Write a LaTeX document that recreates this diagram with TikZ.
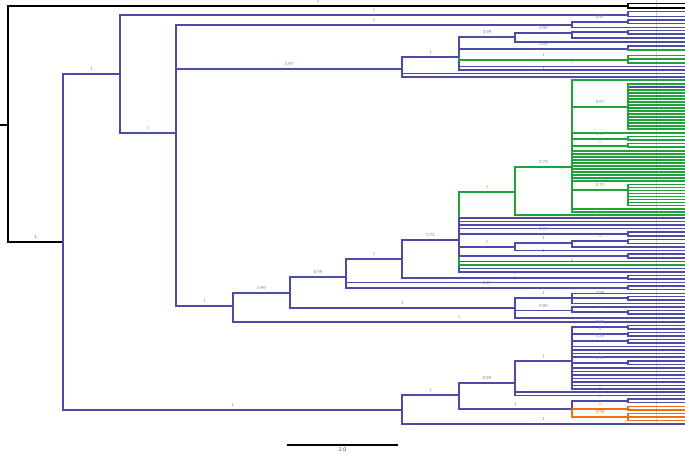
\documentclass[tikz,border=0pt]{standalone}
\usetikzlibrary{positioning}
\definecolor{treeblue}{RGB}{76,76,168}
\definecolor{treegreen}{RGB}{34,160,58}
\definecolor{treeorange}{RGB}{240,112,16}

\begin{document}
\begin{tikzpicture}[x=1pt, y=-1pt,
  br/.style={line width=1.6pt},
  blu/.style={br, draw=treeblue},
  grn/.style={br, draw=treegreen},
  org/.style={br, draw=treeorange},
  blk/.style={br, draw=black},
  pp/.style={font=\fontsize{4.5}{5}\selectfont\sffamily, inner sep=0.5pt, above=2pt, pos=0.75},
  ppb/.style={pp, text=treeblue!75},
  ppg/.style={pp, text=treegreen!85},
  ppo/.style={pp, text=treeorange},
  ppk/.style={pp, text=black!70}]
\useasboundingbox (0,0) rectangle (685,455);

% Faint tip guide
\draw[treeblue!25, line width=0.5pt] (656,0) -- (656,422);

% Root
\coordinate (r0) at (0,125);
\coordinate (root) at (8,125);
\coordinate (k1) at (628,6);
\coordinate (n63) at (63,242);
\draw[blk] (r0) -- (root);
\draw[blk] (root) |- node[ppk] {1} (k1);
\draw[blk] (root) |- node[ppk] {1} (n63);
\foreach \ty in {3.5,8} \draw[blk] (k1) |- (685,\ty);

% Main blue clade
\coordinate (n120) at (120,74);
\coordinate (n402z) at (402,410);
\draw[blu] (n63) |- node[ppb] {1} (n120);
\draw[blu] (n63) |- node[ppb] {1} (n402z);

\coordinate (c15) at (628,15);
\coordinate (n176) at (176,133);
\draw[blu] (n120) |- node[ppb] {1} (c15);
\draw[blu] (n120) |- node[ppb] {1} (n176);
\foreach \ty in {11.5,16.5} \draw[blu] (c15) |- (685,\ty);

\coordinate (n572a) at (572,25);
\coordinate (n402a) at (402,69);
\coordinate (n233) at (233,306);
\draw[blu] (n176) |- node[ppb] {1} (n572a);
\draw[blu] (n176) |- node[ppb] {0.97} (n402a);
\draw[blu] (n176) |- node[ppb] {1} (n233);

\coordinate (c22) at (628,22);
\draw[blu] (n572a) |- node[ppb] {0.97} (c22);
\draw[blu] (n572a) |- (685,27.5);
\foreach \ty in {20,23.5} \draw[blu] (c22) |- (685,\ty);

% Upper sub-clade
\coordinate (n459a) at (459,57);
\draw[blu] (n402a) |- node[ppb] {1} (n459a);
\draw[blu] (n402a) |- node[ppb] {1} (685,73.5);
\draw[blu] (n402a) |- (685,77);

\coordinate (n515a) at (515,37);
\coordinate (c49) at (628,49);
\coordinate (c60) at (628,60);
\draw[blu] (n459a) |- node[ppb] {0.99} (n515a);
\draw[blu] (n459a) |- node[ppb] {0.99} (c49);
\draw[blu] (n459a) |- node[ppb] {1} (685,66.5);
\draw[blu] (n459a) |- (685,70);
\draw[grn] (n459a) |- node[ppg] {1} (c60);
\draw[blu] (c49) |- (685,46);
\draw[grn] (c49) |- (685,50);
\foreach \ty in {55.5,59,63} \draw[grn] (c60) |- (685,\ty);

\coordinate (n572b) at (572,33);
\coordinate (c32) at (628,32);
\draw[blu] (n515a) |- node[ppb] {0.98} (n572b);
\draw[blu] (n515a) |- (685,42);
\draw[blu] (n572b) |- (c32);
\draw[blu] (n572b) |- node[ppb] {1} (685,38);
\foreach \ty in {30.5,34} \draw[blu] (c32) |- (685,\ty);

% Middle sub-clades
\coordinate (n290) at (290,293);
\draw[blu] (n233) |- node[ppb] {0.99} (n290);
\draw[blu] (n233) |- node[ppb] {1} (685,322);
\coordinate (n346) at (346,277);
\coordinate (n515e) at (515,308);
\draw[blu] (n290) |- node[ppb] {0.99} (n346);
\draw[blu] (n290) |- node[ppb] {1} (n515e);

\coordinate (n402c) at (402,259);
\coordinate (c288) at (628,288);
\draw[blu] (n346) |- node[ppb] {1} (n402c);
\draw[blu] (n346) |- node[ppb] {1} (685,282.5);
\draw[blu] (n346) |- node[ppb] {0.99} (c288);
\foreach \ty in {286,289.5} \draw[blu] (c288) |- (685,\ty);

\coordinate (n459c) at (459,240);
\coordinate (c278) at (628,278);
\draw[blu] (n402c) |- node[ppb] {0.74} (n459c);
\draw[blu] (n402c) |- node[ppb] {1} (c278);
\foreach \ty in {275.5,279} \draw[blu] (c278) |- (685,\ty);

\coordinate (gA) at (515,192);
\coordinate (c234) at (628,234);
\coordinate (c256) at (628,256);
\coordinate (n515c) at (515,247);
\draw[grn] (n459c) |- node[ppg] {1} (gA);
\foreach \ty in {218,221.5,225,228.5} \draw[blu] (n459c) |- (685,\ty);
\draw[blu] (n459c) |- node[ppb] {0.99} (c234);
\foreach \ty in {232,236} \draw[blu] (c234) |- (685,\ty);
\foreach \ty in {261.5,268.5,272} \draw[blu] (n459c) |- (685,\ty);
\draw[grn] (n459c) |- node[ppg] {1} (685,265);
\draw[blu] (n459c) |- node[ppb] {1} (c256);
\foreach \ty in {254,258} \draw[blu] (c256) |- (685,\ty);
\draw[blu] (n459c) |- node[ppb] {1} (n515c);

\coordinate (n572c) at (572,243);
\coordinate (c241) at (628,241);
\draw[blu] (n515c) |- node[ppb] {1} (n572c);
\draw[blu] (n515c) |- (685,250.5);
\draw[blu] (n572c) |- node[ppb] {1} (c241);
\draw[blu] (n572c) |- (685,247);
\foreach \ty in {239.5,243.5} \draw[blu] (c241) |- (685,\ty);

% Green clade
\coordinate (gB) at (572,167);
\coordinate (g107) at (628,107);
\coordinate (g139) at (628,139);
\coordinate (g146) at (628,146);
\coordinate (g190) at (628,190);
\draw[grn] (gA) |- node[ppg] {0.72} (gB);
\draw[grn] (gA) |- node[ppg] {1} (685,215);
\draw[grn] (gB) |- (685,80);
\draw[grn] (gB) |- node[ppg] {0.97} (g107);
\draw[blu] (g107) |- (685,87);
\draw[grn] (g107) |- (685,84);
\foreach \ty in {90,93,...,129} \draw[grn] (g107) |- (685,\ty);
\draw[grn] (gB) |- (685,133);
\draw[grn] (gB) |- node[ppg] {0.99} (g139);
\foreach \ty in {136.5,140} \draw[grn] (g139) |- (685,\ty);
\draw[grn] (gB) |- node[ppg] {1} (g146);
\foreach \ty in {143.5,147} \draw[grn] (g146) |- (685,\ty);
\foreach \ty in {151,154,...,181} \draw[grn] (gB) |- (685,\ty);
\draw[grn] (gB) |- node[ppg] {0.77} (g190);
\foreach \ty in {184.5,187.5,...,205.5} \draw[grn] (g190) |- (685,\ty);
\foreach \ty in {209,212} \draw[grn] (gB) |- (685,\ty);

% Lower middle
\coordinate (n572e) at (572,298);
\coordinate (n572f) at (572,310.5);
\coordinate (c298) at (628,298);
\coordinate (c312) at (628,312);
\draw[blu] (n515e) |- node[ppb] {1} (n572e);
\draw[blu] (n515e) |- node[ppb] {0.98} (n572f);
\draw[blu] (n515e) |- (685,318);
\draw[blu] (n572e) |- (685,293.5);
\draw[blu] (n572e) |- node[ppb] {0.99} (c298);
\draw[blu] (n572e) |- (685,303.5);
\foreach \ty in {296.5,300} \draw[blu] (c298) |- (685,\ty);
\draw[blu] (n572f) |- (685,307);
\draw[blu] (n572f) |- node[ppb] {1} (c312);
\foreach \ty in {310.5,314} \draw[blu] (c312) |- (685,\ty);

% Bottom clade
\coordinate (n459z) at (459,395);
\draw[blu] (n402z) |- node[ppb] {1} (n459z);
\draw[blu] (n402z) |- node[ppb] {1} (685,424);
\coordinate (n515z) at (515,383);
\coordinate (n572y) at (572,409);
\draw[blu] (n459z) |- node[ppb] {0.98} (n515z);
\draw[blu] (n459z) |- node[ppb] {1} (n572y);

\coordinate (n572z) at (572,361);
\draw[blu] (n515z) |- node[ppb] {1} (n572z);
\draw[blu] (n515z) |- node[ppb] {1} (685,392);
\draw[blu] (n515z) |- (685,395.5);

\coordinate (c327) at (628,327);
\coordinate (c334) at (628,334);
\coordinate (c341) at (628,341);
\coordinate (c363) at (628,363);
\draw[blu] (n572z) |- node[ppb] {0.99} (c327);
\foreach \ty in {325.5,329} \draw[blu] (c327) |- (685,\ty);
\draw[blu] (n572z) |- node[ppb] {1} (c334);
\foreach \ty in {332.5,336} \draw[blu] (c334) |- (685,\ty);
\draw[blu] (n572z) |- node[ppb] {0.85} (c341);
\foreach \ty in {339.5,343} \draw[blu] (c341) |- (685,\ty);
\foreach \ty in {346.5,350,353.5,357} \draw[blu] (n572z) |- (685,\ty);
\draw[blu] (n572z) |- node[ppb] {0.93} (c363);
\foreach \ty in {361,364.5} \draw[blu] (c363) |- (685,\ty);
\foreach \ty in {368,371.5,375,378.5,382,385.5,389} \draw[blu] (n572z) |- (685,\ty);

\coordinate (c401) at (628,401);
\coordinate (o409) at (628,409);
\coordinate (o417) at (628,417);
\draw[blu] (n572y) |- node[ppb] {1} (c401);
\foreach \ty in {399,402.5} \draw[blu] (c401) |- (685,\ty);
\draw[org] (n572y) |- node[ppo] {1} (o409);
\foreach \ty in {406.5,410} \draw[org] (o409) |- (685,\ty);
\draw[org] (n572y) |- node[ppo] {0.99} (o417);
\foreach \ty in {413.5,417,420.5} \draw[org] (o417) |- (685,\ty);

% Scale bar
\coordinate (sbL) at (287,445);
\coordinate (sbR) at (398,445);
\draw[blk] (sbL) -- node[below=1pt, inner sep=0.5pt, font=\fontsize{5.5}{6}\selectfont\sffamily, text=black!80] {2.0} (sbR);
\end{tikzpicture}
\end{document}
